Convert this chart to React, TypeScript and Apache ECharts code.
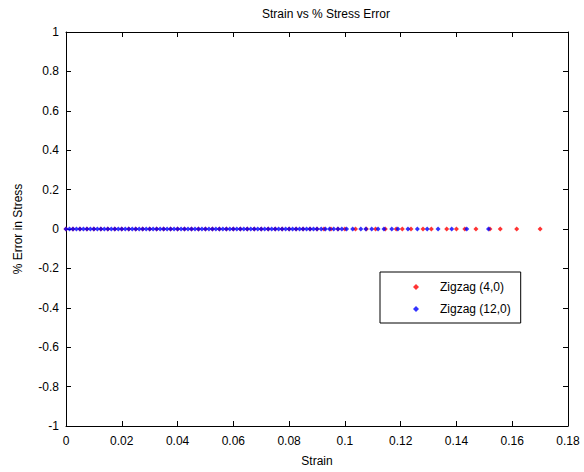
import React, { useEffect, useRef } from "react";
import * as echarts from "echarts";

const titleText = "Strain vs % Stress Error";
const xName = "Strain";
const yName = "% Error in Stress";
const seriesNames = ["Zigzag (4,0)", "Zigzag (12,0)"];

const strainZigzag40 = [
  0, 0.0025, 0.005, 0.0075, 0.01, 0.0125, 0.015, 0.0175, 0.02, 0.0225,
  0.025, 0.0275, 0.03, 0.0325, 0.035, 0.0375, 0.04, 0.0425, 0.045, 0.0475,
  0.05, 0.0525, 0.055, 0.0575, 0.06, 0.0625, 0.065, 0.0675, 0.07, 0.0725,
  0.075, 0.0775, 0.08, 0.0825, 0.085, 0.0875, 0.09, 0.0925, 0.095, 0.0975,
  0.1, 0.1038, 0.1077, 0.111, 0.1145, 0.1184, 0.1206, 0.1237, 0.128, 0.131,
  0.1365, 0.14, 0.143, 0.147, 0.152, 0.1557, 0.1616, 0.17,
];
const errorZigzag40 = strainZigzag40.map(() => 0);

const strainZigzag120 = [
  0, 0.00125, 0.0025, 0.00375, 0.005, 0.00625, 0.0075, 0.00875, 0.01, 0.01125,
  0.0125, 0.01375, 0.015, 0.01625, 0.0175, 0.01875, 0.02, 0.02125, 0.0225, 0.02375,
  0.025, 0.02625, 0.0275, 0.02875, 0.03, 0.03125, 0.0325, 0.03375, 0.035, 0.03625,
  0.0375, 0.03875, 0.04, 0.04125, 0.0425, 0.04375, 0.045, 0.04625, 0.0475, 0.04875,
  0.05, 0.05125, 0.0525, 0.05375, 0.055, 0.05625, 0.0575, 0.05875, 0.06, 0.06125,
  0.0625, 0.06375, 0.065, 0.06625, 0.0675, 0.06875, 0.07, 0.07125, 0.0725, 0.07375,
  0.075, 0.07625, 0.0775, 0.07875, 0.08, 0.08125, 0.0825, 0.08375, 0.085, 0.08625,
  0.0875, 0.08875, 0.09, 0.0915, 0.093, 0.0945, 0.096, 0.0975, 0.0989, 0.1006,
  0.1028, 0.1057, 0.1075, 0.1096, 0.1119, 0.114, 0.1168, 0.119, 0.1226, 0.126,
  0.1295, 0.1334, 0.1383, 0.1437, 0.1515,
];
const errorZigzag120 = strainZigzag120.map(() => 0);

const font = "'Liberation Sans', Arial, sans-serif";

export default function App() {
  const ref = useRef<HTMLDivElement>(null);
  useEffect(() => {
    if (!ref.current) return;
    const chart = echarts.init(ref.current, undefined, { renderer: "svg" });
    const axisCommon = {
      axisLine: { show: true, onZero: false, lineStyle: { color: "#000", width: 1 } },
      axisTick: { show: true, inside: true, length: 5, lineStyle: { color: "#000" } },
      splitLine: { show: false },
    };
    chart.setOption({
      animation: false,
      backgroundColor: "#fff",
      textStyle: { fontFamily: font },
      title: {
        text: titleText,
        left: 321,
        textAlign: "center",
        top: 3,
        textStyle: { fontSize: 12, fontWeight: "normal", color: "#000", fontFamily: font },
      },
      grid: { left: 66, right: 16, top: 32, bottom: 42, show: false },
      legend: {
        left: 380,
        top: 272,
        orient: "vertical",
        padding: [9, 10, 8, 33],
        itemGap: 10,
        itemWidth: 6,
        itemHeight: 6,
        borderColor: "#000",
        borderWidth: 1,
        backgroundColor: "#fff",
        data: seriesNames.map((n) => ({ name: n, icon: "diamond" })),
        textStyle: { fontSize: 12, color: "#000", fontFamily: font, padding: [0, 0, 0, 16] },
      },
      xAxis: [
        {
          type: "value",
          min: 0,
          max: 0.18,
          interval: 0.02,
          position: "bottom",
          name: xName,
          nameLocation: "middle",
          nameGap: 29,
          nameTextStyle: { fontSize: 12, color: "#000", fontFamily: font },
          axisLabel: { color: "#000", fontSize: 12, margin: 9, fontFamily: font },
          ...axisCommon,
        },
        {
          type: "value",
          min: 0,
          max: 0.18,
          interval: 0.02,
          position: "top",
          axisLabel: { show: false },
          ...axisCommon,
        },
      ],
      yAxis: [
        {
          type: "value",
          min: -1,
          max: 1,
          interval: 0.2,
          position: "left",
          name: yName,
          nameLocation: "middle",
          nameGap: 42,
          nameTextStyle: { fontSize: 12, color: "#000", fontFamily: font },
          axisLabel: { color: "#000", fontSize: 12, margin: 7, fontFamily: font },
          ...axisCommon,
        },
        {
          type: "value",
          min: -1,
          max: 1,
          interval: 0.2,
          position: "right",
          axisLabel: { show: false },
          ...axisCommon,
        },
      ],
      series: [
        {
          name: seriesNames[0],
          type: "scatter",
          symbol: "diamond",
          symbolSize: 5,
          itemStyle: { color: "#ff0000" },
          data: strainZigzag40.map((x, i) => [x, errorZigzag40[i]]),
        },
        {
          name: seriesNames[1],
          type: "scatter",
          symbol: "diamond",
          symbolSize: 5,
          itemStyle: { color: "#0000ff" },
          data: strainZigzag120.map((x, i) => [x, errorZigzag120[i]]),
        },
      ],
    });
    return () => chart.dispose();
  }, []);
  return (
    <div
      ref={ref}
      style={{ position: "fixed", left: 0, top: 0, width: 584, height: 472 }}
    />
  );
}
